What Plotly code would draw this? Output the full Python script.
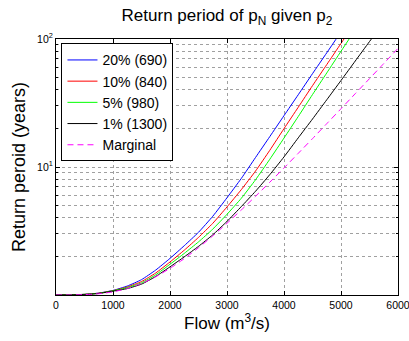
import plotly.graph_objects as go

flow = [0, 250, 500, 750, 1000, 1250, 1500, 1750, 2000, 2250, 2500, 2750, 3000,
        3250, 3500, 3750, 4000, 4250, 4500, 4750, 5000, 5250, 5500, 5750, 6000]

p20 = [1.0, 1.002, 1.012, 1.035, 1.086, 1.175, 1.318, 1.567, 1.932, 2.427, 3.09, 4.12, 5.75,
       8.13, 11.86, 17.26, 25.2, 36.7, 53.6, 78.0, 113.8]
p10 = [1.0, 1.002, 1.012, 1.033, 1.081, 1.156, 1.274, 1.486, 1.811, 2.239, 2.818, 3.63, 4.875,
       6.65, 9.29, 13.49, 19.95, 29.3, 43.2, 63.1, 92.3, 134.9]
p5 = [1.0, 1.002, 1.012, 1.030, 1.079, 1.143, 1.245, 1.439, 1.738, 2.113, 2.60, 3.27, 4.27,
      5.69, 7.94, 11.48, 16.83, 24.8, 36.8, 54.3, 80.2, 118.0]
p1 = [1.0, 1.002, 1.009, 1.028, 1.072, 1.122, 1.216, 1.396, 1.66, 1.986, 2.399, 2.951, 3.758,
      4.90, 6.46, 8.71, 11.99, 16.9, 23.7, 33.5, 47.4, 67.3, 95.5, 134.9]
marginal = [1.0002, 1.0014, 1.0066, 1.0226, 1.058, 1.1245, 1.231, 1.39, 1.615, 1.924, 2.341, 2.896,
            3.635, 4.613, 5.90, 7.60, 9.83, 12.79, 16.66, 21.8, 28.5, 37.4, 49.0, 64.3, 84.5]

names = ["20% (690)", "10% (840)", "5% (980)", "1% (1300)", "Marginal"]
colors = ["#0000ff", "#ff0000", "#00ff00", "#000000", "#ff00ff"]
series = [p20, p10, p5, p1, marginal]

fig = go.Figure()
for nm, col, ys in zip(names, colors, series):
    fig.add_trace(go.Scatter(
        x=flow[:len(ys)], y=ys, mode="lines", name=nm,
        line=dict(color=col, width=1, shape="spline", smoothing=0.5,
                  dash="6px,4px" if nm == "Marginal" else "solid"),
    ))

font = "Liberation Sans, Arial, Helvetica, sans-serif"
minor_y = [2, 3, 4, 5, 6, 7, 8, 9, 20, 30, 40, 50, 60, 70, 80, 90]
gridc = "#a0a0a0"

fig.update_layout(
    width=409, height=341,
    margin=dict(l=56, r=11, t=39, b=46, autoexpand=False),
    paper_bgcolor="white", plot_bgcolor="white",
    font=dict(family=font, color="black", size=11),
    title=dict(text="Return period of p<sub>N</sub> given p<sub>2</sub>",
               x=0.555, xanchor="center", y=0.955, yanchor="middle",
               font=dict(size=17, family=font)),
    showlegend=True,
    legend=dict(x=0.016, y=0.983, xanchor="left", yanchor="top",
                bgcolor="white", bordercolor="black", borderwidth=1,
                font=dict(size=14, family=font), itemwidth=30,
                tracegroupgap=0),
    xaxis=dict(range=[0, 6000], tickvals=[0, 1000, 2000, 3000, 4000, 5000, 6000],
               automargin=False,
               showline=True, linecolor="black", linewidth=1, mirror="allticks",
               ticks="inside", ticklen=4, tickcolor="black",
               showgrid=True, gridcolor=gridc, griddash="dot", gridwidth=1,
               zeroline=False, tickfont=dict(size=10.5), ticklabeloverflow="allow",
               title=dict(text="Flow (m<sup>3</sup>/s)", font=dict(size=17), standoff=5)),
    yaxis=dict(type="log", range=[0, 2], tickvals=[1, 10, 100],
               ticktext=["", "10<sup>1</sup>", "10<sup>2</sup>"],
               automargin=False,
               showline=True, linecolor="black", linewidth=1, mirror="allticks",
               ticks="inside", ticklen=4, tickcolor="black",
               showgrid=True, gridcolor=gridc, griddash="dot", gridwidth=1,
               zeroline=False, tickfont=dict(size=10.5),
               minor=dict(tickvals=minor_y, ticks="inside", ticklen=2, tickcolor="black",
                          showgrid=True, gridcolor=gridc, griddash="dot", gridwidth=1),
               title=dict(text="Return peroid (years)", font=dict(size=18), standoff=6)),
)

fig.write_html("out.html")
